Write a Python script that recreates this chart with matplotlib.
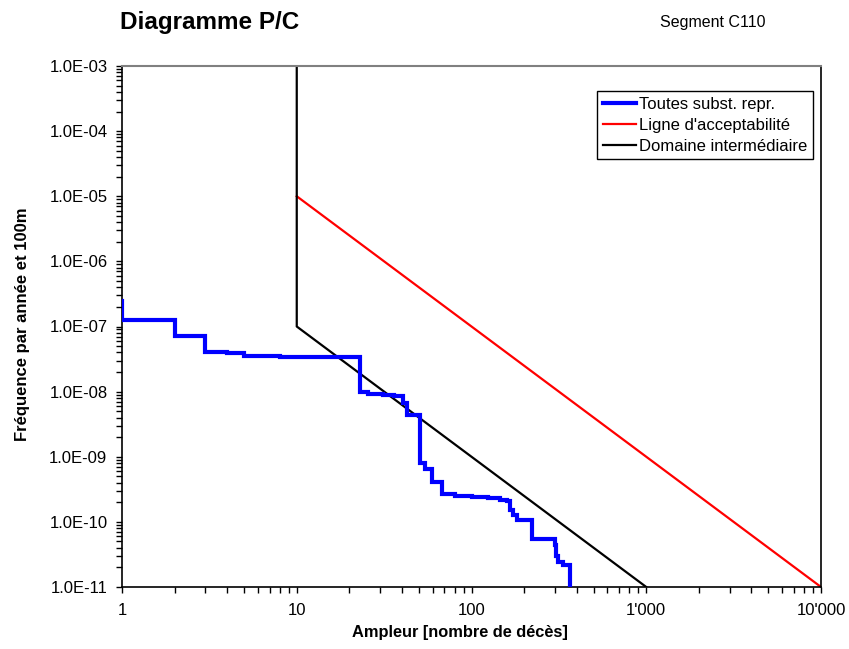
import numpy as np
import matplotlib
matplotlib.use("Agg")
import matplotlib.pyplot as plt
from matplotlib.ticker import FixedLocator, FixedFormatter, LogLocator, NullFormatter

plt.rcParams['font.family'] = ['Liberation Sans', 'DejaVu Sans']

# Data
title = "Diagramme P/C"
subtitle = "Segment C110"
x_label = "Ampleur [nombre de décès]"
y_label = "Fréquence par année et 100m"

# Blue step curve: all representative substances (step starts at x, holds y)
subst_x = [1, 1, 2, 3, 4, 5, 6.9, 8, 10, 15, 23, 25.7, 31, 36, 40.7, 42.7,
           50.7, 54, 59.3, 67.5, 80, 100, 125, 146, 160, 165, 172, 181, 221,
           300, 306, 312, 335, 350, 366]
subst_y = [2.5e-7, 1.25e-7, 7.2e-8, 4.05e-8, 3.9e-8, 3.55e-8, 3.48e-8, 3.45e-8,
           3.43e-8, 3.4e-8, 1.0e-8, 9.1e-9, 8.9e-9, 8.6e-9, 6.6e-9, 4.4e-9,
           8.1e-10, 6.6e-10, 4.1e-10, 2.65e-10, 2.5e-10, 2.4e-10, 2.3e-10, 2.2e-10,
           2.1e-10, 1.5e-10, 1.27e-10, 1.06e-10, 5.5e-11,
           4.4e-11, 3.0e-11, 2.45e-11, 2.2e-11, 2.15e-11, 1.0e-11]

# Acceptability line
accept_x = [10, 10000]
accept_y = [1e-5, 1e-11]

# Intermediate domain boundary
inter_x = [10, 10, 1000]
inter_y = [1e-3, 1e-7, 1e-11]

legend_labels = ["Toutes subst. repr.", "Ligne d'acceptabilité", "Domaine intermédiaire"]

x_ticks = [1, 10, 100, 1000, 10000]
x_tick_labels = ["1", "10", "100", "1'000", "10'000"]
y_ticks = [1e-11, 1e-10, 1e-9, 1e-8, 1e-7, 1e-6, 1e-5, 1e-4, 1e-3]
y_tick_labels = ["1.0E-11", "1.0E-10", "1.0E-09", "1.0E-08", "1.0E-07",
                 "1.0E-06", "1.0E-05", "1.0E-04", "1.0E-03"]

fig = plt.figure(figsize=(8.49, 6.49), dpi=100)
ax = fig.add_axes([122/849, 1-587/649, (821-122)/849, (587-66)/649])

ax.step(subst_x, subst_y, where='post', color='#0000ff', lw=3.0,
        label=legend_labels[0], zorder=3, solid_joinstyle='miter')
ax.plot(accept_x, accept_y, color='#ff0000', lw=1.6, label=legend_labels[1], zorder=2)
ax.plot(inter_x, inter_y, color='black', lw=1.6, label=legend_labels[2], zorder=2)

ax.set_xscale('log')
ax.set_yscale('log')
ax.set_xlim(1, 10000)
ax.set_ylim(1e-11, 1e-3)

ax.xaxis.set_major_locator(FixedLocator(x_ticks))
ax.xaxis.set_major_formatter(FixedFormatter(x_tick_labels))
ax.xaxis.set_minor_locator(LogLocator(base=10, subs=np.arange(2, 10), numticks=100))
ax.xaxis.set_minor_formatter(NullFormatter())
ax.yaxis.set_major_locator(FixedLocator(y_ticks))
ax.yaxis.set_major_formatter(FixedFormatter(y_tick_labels))
ax.yaxis.set_minor_locator(LogLocator(base=10, subs=np.arange(2, 10), numticks=100))
ax.yaxis.set_minor_formatter(NullFormatter())

ax.tick_params(axis='both', which='both', direction='out', length=4.5, width=1.0,
               color='black', labelsize=12)
ax.tick_params(axis='x', which='major', pad=7)
ax.tick_params(axis='y', which='major', pad=6)
ax.tick_params(top=False, right=False, which='both')

for s in ['left', 'bottom', 'right']:
    ax.spines[s].set_color('black')
    ax.spines[s].set_linewidth(1.2)
ax.spines['top'].set_color('#808080')
ax.spines['top'].set_linewidth(1.5)

ax.set_xlabel(x_label, fontsize=11.8, fontweight='bold')
ax.xaxis.set_label_coords((460-122)/699, -(625-587)/521)
ax.set_ylabel(y_label, fontsize=12, fontweight='bold')
ax.yaxis.set_label_coords(-(122-30)/699, 0.505)

leg = ax.legend(loc='upper right', bbox_to_anchor=(0.989, 0.952), borderaxespad=0,
                fontsize=12, frameon=True, fancybox=False, edgecolor='black',
                handlelength=2.0, handletextpad=0.2, borderpad=0.35,
                labelspacing=0.35, framealpha=1)
leg.get_frame().set_linewidth(1.0)

fig.text(120/849, 1-23/649, title, fontsize=17.5, fontweight='bold', va='center', ha='left')
fig.text(660/849, 1-23/649, subtitle, fontsize=11.5, va='center', ha='left')

fig.savefig("out.png", dpi=100)
